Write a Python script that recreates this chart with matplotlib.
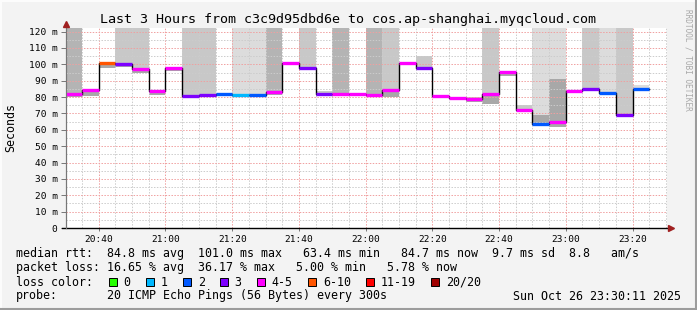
import matplotlib
matplotlib.use('Agg')
import matplotlib.pyplot as plt
from matplotlib.patches import Rectangle
from matplotlib.lines import Line2D

plt.rcParams['font.family'] = 'DejaVu Sans Mono'

# 5 minute steps (end time of each step)
step_end = ['20:35', '20:40', '20:45', '20:50', '20:55', '21:00', '21:05', '21:10',
            '21:15', '21:20', '21:25', '21:30', '21:35', '21:40', '21:45', '21:50',
            '21:55', '22:00', '22:05', '22:10', '22:15', '22:20', '22:25', '22:30',
            '22:35', '22:40', '22:45', '22:50', '22:55', '23:00', '23:05', '23:10',
            '23:15', '23:20', '23:25']

# median rtt in ms
median_ms = [81.8, 84.6, 101.0, 100.5, 97.0, 83.8, 97.9, 80.6, 81.0, 81.6, 81.0, 81.0,
             83.4, 101.0, 97.9, 81.8, 81.8, 81.6, 81.4, 84.5, 100.9, 97.9, 80.8, 79.4,
             79.0, 81.6, 95.2, 72.1, 63.4, 65.0, 83.6, 85.1, 82.4, 69.0, 84.7]

# loss color class per step (index into loss_labels)
loss_class = [4, 4, 5, 3, 4, 4, 4, 3, 3, 2, 1, 2, 4, 4, 3, 3, 4, 4, 4, 4, 4, 3, 4, 4,
              4, 4, 4, 4, 2, 4, 4, 3, 2, 3, 2]

# smoke (min .. max rtt), 130 = beyond the top of the graph
smoke_lo = [80.0, 80.5, 98.0, 98.5, 95.0, 81.0, 96.0, 79.5, 80.0, 80.5, 80.0, 80.0,
            81.5, 99.5, 96.5, 80.5, 80.5, 80.5, 80.0, 80.0, 99.5, 96.5, 79.5, 78.0,
            77.0, 75.5, 93.0, 71.0, 62.5, 61.5, 83.0, 84.5, 82.0, 68.5, 84.5]
smoke_hi = [130, 84.6, 101.0, 130, 130, 83.8, 97.9, 130, 130, 81.6, 130, 130,
            130, 101.0, 130, 83.5, 130, 81.6, 130, 130, 100.9, 105.0, 80.8, 79.4,
            80.0, 130, 95.2, 75.0, 130, 130, 83.6, 130, 130, 130, 87.5]
smoke_mid = [81.8, 84.6, 101.0, 100.5, 97.0, 83.8, 97.9, 80.6, 81.0, 81.6, 81.0, 81.0,
             83.4, 101.0, 97.9, 81.8, 81.8, 81.6, 81.4, 84.5, 100.9, 97.9, 80.8, 79.4,
             79.0, 81.6, 95.2, 72.1, 69.0, 91.0, 83.6, 85.1, 82.4, 69.0, 84.7]
smoke_shade = ['#b4b4b4', '#c8c8c8', '#c8c8c8', '#c8c8c8', '#c8c8c8', '#c8c8c8',
               '#c8c8c8', '#c8c8c8', '#c8c8c8', '#c8c8c8', '#dcdcdc', '#dcdcdc',
               '#b4b4b4', '#c8c8c8', '#c8c8c8', '#c8c8c8', '#b4b4b4', '#c8c8c8',
               '#b4b4b4', '#c8c8c8', '#c8c8c8', '#c8c8c8', '#c8c8c8', '#c8c8c8',
               '#c8c8c8', '#c8c8c8', '#c8c8c8', '#c8c8c8', '#dcdcdc', '#dcdcdc',
               '#c8c8c8', '#c8c8c8', '#dcdcdc', '#c8c8c8', '#dcdcdc']

loss_labels = ['0', '1', '2', '3', '4-5', '6-10', '11-19', '20/20']
loss_colors = ['#26ff00', '#00b8ff', '#0059ff', '#7e00ff', '#ff00ff', '#ff5500',
               '#ff0000', '#a00000']

title = 'Last 3 Hours from c3c9d95dbd6e to cos.ap-shanghai.myqcloud.com'
stat_lines = [
    'median rtt:  84.8 ms avg  101.0 ms max   63.4 ms min   84.7 ms now  9.7 ms sd  8.8   am/s',
    'packet loss: 16.65 % avg  36.17 % max   5.00 % min   5.78 % now',
]
probe_text = '20 ICMP Echo Pings (56 Bytes) every 300s'
stamp = 'Sun Oct 26 23:30:11 2025'

W, H = 697, 310


def fx(px):
    return px / W


def fy(py):
    return 1 - py / H


def minutes(hhmm):
    h, m = hhmm.split(':')
    return (int(h) - 20) * 60 + int(m)


fig = plt.figure(figsize=(W / 100, H / 100), dpi=100, facecolor='#f3f3f3')
ax = fig.add_axes([fx(66), fy(228), fx(666.5) - fx(66), fy(28) - fy(228)])
ax.set_facecolor('white')

ends = [minutes(t) for t in step_end]
starts = [e - 5 for e in ends]

# smoke
for i in range(len(ends)):
    ax.bar(starts[i], smoke_hi[i] - smoke_lo[i], width=5, bottom=smoke_lo[i],
           align='edge', color=smoke_shade[i], lw=0, zorder=1)
    ax.bar(starts[i], smoke_mid[i] - smoke_lo[i], width=5, bottom=smoke_lo[i],
           align='edge', color='#a8a8a8', lw=0, zorder=1.2)

# median line
ax.step(starts + [ends[-1]], median_ms + [median_ms[-1]], where='post',
        color='black', lw=1.0, zorder=3)
ax.hlines(median_ms, starts, ends, colors=[loss_colors[c] for c in loss_class],
          lw=2.4, zorder=4)

ax.set_xlim(30 + 11 / 60, 210 + 11 / 60)
ax.set_ylim(0, 122.2)

ax.set_yticks(range(0, 121, 10))
ax.set_yticklabels(['0'] + ['%d m' % v for v in range(10, 121, 10)])
ax.set_yticks(range(5, 120, 10), minor=True)
xt = list(range(40, 201, 20))
ax.set_xticks(xt)
ax.set_xticklabels(['%d:%02d' % (20 + m // 60, m % 60) for m in xt])
ax.set_xticks(range(35, 211, 5), minor=True)

ax.set_axisbelow(False)
ax.grid(which='major', color='#f0a0a0', ls=(0, (1.5, 1.5)), lw=0.7)
ax.grid(which='minor', color='#cccccc', ls=(0, (1.5, 1.5)), lw=0.7)

ax.tick_params(axis='y', which='major', length=3.5, width=0.7, pad=2.6,
               labelsize=6.8, color='#777777')
ax.tick_params(axis='y', which='minor', length=0)
ax.tick_params(axis='x', which='major', length=2, width=0.7, pad=3,
               labelsize=6.8, color='#777777')
ax.tick_params(axis='x', which='minor', length=0)

for s in ['top', 'right', 'bottom']:
    ax.spines[s].set_visible(False)
ax.spines['left'].set_color('#777777')
ax.spines['left'].set_linewidth(0.8)

# axes with arrows
fig.add_artist(Line2D([fx(62), fx(669)], [fy(228), fy(228)], color='black', lw=1.0))
fig.add_artist(Line2D([fx(66), fx(66)], [fy(228), fy(24)], color='#777777', lw=0.8))
fig.add_artist(Line2D([fx(671)], [fy(228)], marker='>', ms=4.5, color='#a02020', lw=0))
fig.add_artist(Line2D([fx(66)], [fy(24)], marker='^', ms=4.5, color='#a02020', lw=0))

fig.text(fx(348), fy(19), title, ha='center', va='center', fontsize=9.6)
fig.text(fx(11), fy(128), 'Seconds', rotation=90, ha='center', va='center', fontsize=8.4)
fig.text(fx(688), fy(60), 'RRDTOOL / TOBI OETIKER', rotation=270, ha='center',
         va='center', fontsize=5.6, color='#a8a8a8')

fig.text(fx(16), fy(254), stat_lines[0], va='center', fontsize=8.4)
fig.text(fx(16), fy(268), stat_lines[1], va='center', fontsize=8.4)
fig.text(fx(16), fy(282), 'loss color:', va='center', fontsize=8.4)
bx = 108.7
for lab, col in zip(loss_labels, loss_colors):
    fig.patches.append(Rectangle((fx(bx), fy(286)), fx(8), fy(278) - fy(286),
                                 transform=fig.transFigure, facecolor=col,
                                 edgecolor='black', lw=0.7))
    fig.text(fx(bx + 15), fy(282), lab, va='center', fontsize=8.4)
    bx += 30 + 7.02 * len(lab)
fig.text(fx(16), fy(296), 'probe:', va='center', fontsize=8.4)
fig.text(fx(107), fy(296), probe_text, va='center', fontsize=8.4)
fig.text(fx(681), fy(296), stamp, ha='right', va='center', fontsize=8.4)

# 3d-ish border
fig.add_artist(Line2D([0, 1], [fy(0.5), fy(0.5)], color='#fcfcfc', lw=1.5))
fig.add_artist(Line2D([fx(0.5), fx(0.5)], [0, 1], color='#fcfcfc', lw=1.5))
fig.add_artist(Line2D([0, 1], [fy(309), fy(309)], color='#9c9c9c', lw=1.5))
fig.add_artist(Line2D([fx(696), fx(696)], [0, 1], color='#9c9c9c', lw=1.5))

fig.savefig('out.png', dpi=100, facecolor=fig.get_facecolor())
